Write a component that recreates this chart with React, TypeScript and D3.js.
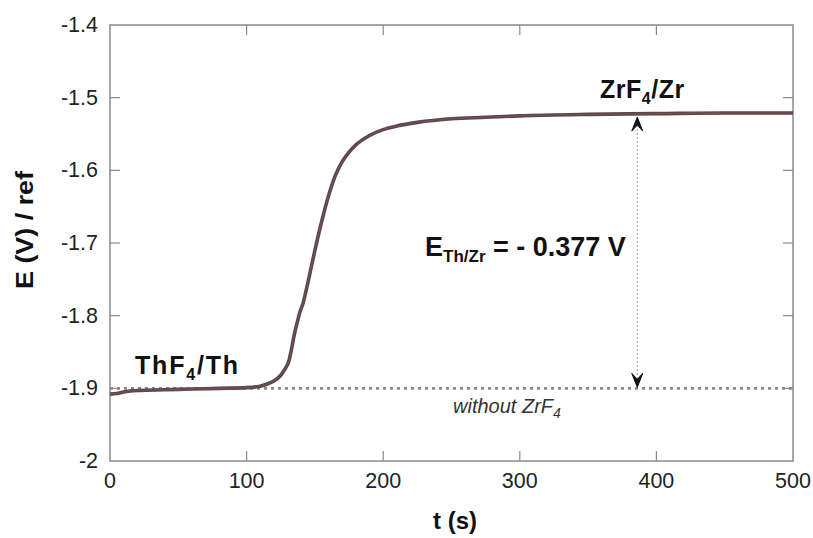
import React from "react";
import * as d3 from "d3";

const W = 813;
const H = 538;

const timeS = [0, 5, 10, 20, 40, 60, 80, 100, 110, 115, 120, 125, 128, 131, 133, 135, 137, 139, 141, 143, 146, 150, 155, 160, 165, 170, 175, 180, 190, 200, 210, 225, 250, 275, 300, 350, 400, 450, 500];
const potentialV = [-1.908, -1.907, -1.905, -1.903, -1.902, -1.901, -1.9, -1.899, -1.897, -1.894, -1.89, -1.882, -1.874, -1.862, -1.845, -1.825, -1.81, -1.795, -1.785, -1.77, -1.745, -1.71, -1.67, -1.635, -1.607, -1.588, -1.575, -1.565, -1.552, -1.544, -1.539, -1.534, -1.529, -1.527, -1.525, -1.523, -1.522, -1.521, -1.521];

const baselineT = [0, 500];
const baselineE = [-1.9, -1.9];

const xTicks = [0, 100, 200, 300, 400, 500];
const yTicks = [-2, -1.9, -1.8, -1.7, -1.6, -1.5, -1.4];
const yTickLabels = ["-2", "-1.9", "-1.8", "-1.7", "-1.6", "-1.5", "-1.4"];

const arrowT = 386;
const arrowTop = -1.524;
const arrowBottom = -1.9;

export default function App() {
  const x = d3.scaleLinear().domain([0, 500]).range([110, 793]);
  const y = d3.scaleLinear().domain([-2, -1.4]).range([461, 25]);

  const line = d3
    .line<number>()
    .x((_, i) => x(timeS[i]))
    .y((d) => y(d))
    .curve(d3.curveMonotoneX);

  const baseLine = d3
    .line<number>()
    .x((_, i) => x(baselineT[i]))
    .y((d) => y(d));

  const ax = x(arrowT);
  const ayTop = y(arrowTop) + 2;
  const ayBot = y(arrowBottom) - 1;
  const axisColor = "#8a8a8a";
  const font = "'Liberation Sans', Arial, sans-serif";

  return (
    <svg
      width={W}
      height={H}
      style={{ position: "fixed", left: 0, top: 0, background: "#fff" }}
      fontFamily={font}
    >
      <rect x={0} y={0} width={W} height={H} fill="#fff" />
      {/* frame */}
      <rect x={110} y={25} width={683} height={436} fill="none" stroke={axisColor} strokeWidth={1.5} />
      {/* x ticks */}
      {xTicks.map((t) => (
        <g key={"x" + t}>
          {t > 0 && t < 500 && (
            <>
              <line x1={x(t)} x2={x(t)} y1={461} y2={451} stroke={axisColor} strokeWidth={1.2} />
              <line x1={x(t)} x2={x(t)} y1={25} y2={35} stroke={axisColor} strokeWidth={1.2} />
            </>
          )}
          <text x={x(t)} y={488} textAnchor="middle" fontSize={21.5} fill="#222">
            {t}
          </text>
        </g>
      ))}
      {/* y ticks */}
      {yTicks.map((v, i) => (
        <g key={"y" + v}>
          {i > 0 && i < yTicks.length - 1 && (
            <>
              <line x1={110} x2={120} y1={y(v)} y2={y(v)} stroke={axisColor} strokeWidth={1.2} />
              <line x1={793} x2={783} y1={y(v)} y2={y(v)} stroke={axisColor} strokeWidth={1.2} />
            </>
          )}
          <text x={98} y={y(v) + 7} textAnchor="end" fontSize={21.5} fill="#222">
            {yTickLabels[i]}
          </text>
        </g>
      ))}
      {/* axis titles */}
      <text
        transform={`translate(33,230) rotate(-90)`}
        textAnchor="middle"
        fontSize={24}
        fontWeight="bold"
        fill="#111"
        textLength={118}
        lengthAdjust="spacingAndGlyphs"
      >
        E (V) / ref
      </text>
      <text x={455} y={529} textAnchor="middle" fontSize={24} fontWeight="bold" fill="#111">
        t (s)
      </text>

      {/* baseline without ZrF4 */}
      <path
        d={baseLine(baselineE) || ""}
        fill="none"
        stroke="#888"
        strokeWidth={2.6}
        strokeDasharray="3,4"
      />

      {/* curve */}
      <path d={line(potentialV) || ""} fill="none" stroke="#5b4646" strokeWidth={3.6} strokeLinejoin="round" />
      <path d={line(potentialV) || ""} fill="none" stroke="#8a5a55" strokeWidth={1} opacity={0.6} />

      {/* vertical arrow */}
      <line x1={ax} x2={ax} y1={ayTop + 4} y2={ayBot - 4} stroke="#999" strokeWidth={1} strokeDasharray="2,2" />
      <path
        d={`M${ax},${ayTop} L${ax - 5.5},${ayTop + 14} L${ax},${ayTop + 8} L${ax + 5.5},${ayTop + 14} Z`}
        fill="#111"
        stroke="#111"
        strokeWidth={1}
        strokeLinejoin="round"
      />
      <path
        d={`M${ax},${ayBot} L${ax - 5.5},${ayBot - 14} L${ax},${ayBot - 8} L${ax + 5.5},${ayBot - 14} Z`}
        fill="#111"
        stroke="#111"
        strokeWidth={1}
        strokeLinejoin="round"
      />

      {/* annotations */}
      <text x={600} y={98} fontSize={25} fill="#111" fontWeight="bold" letterSpacing={0.5}>
        ZrF<tspan fontSize={16} dy={6}>4</tspan>
        <tspan dy={-6}>/Zr</tspan>
      </text>
      <text x={135} y={374} fontSize={25} fill="#111" fontWeight="bold" letterSpacing={1.8}>
        ThF<tspan fontSize={16} dy={6}>4</tspan>
        <tspan dy={-6}>/Th</tspan>
      </text>
      <text x={425} y={256} fontSize={27} fill="#111" fontWeight="bold">
        E<tspan fontSize={17} dy={6}>Th/Zr</tspan>
        <tspan dy={-6}> = - 0.377 V</tspan>
      </text>
      <text x={453} y={413} fontSize={20} fill="#333" fontStyle="italic">
        without ZrF<tspan fontSize={14} dy={5}>4</tspan>
      </text>
    </svg>
  );
}
